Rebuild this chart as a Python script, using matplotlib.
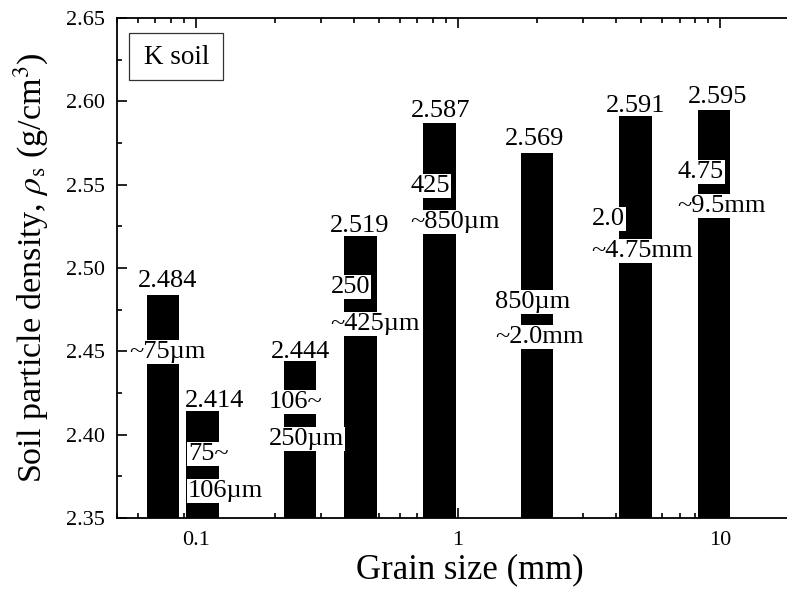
import numpy as np
import matplotlib
matplotlib.use("Agg")
import matplotlib.pyplot as plt
from matplotlib.patches import Rectangle
from matplotlib.ticker import MultipleLocator, LogLocator, NullFormatter

plt.rcParams['font.family'] = ['Liberation Serif', 'DejaVu Serif']
plt.rcParams['mathtext.fontset'] = 'stix'

# grain size (upper bound of each fraction, mm) and soil particle density
grain_size = [0.075, 0.106, 0.25, 0.425, 0.85, 2.0, 4.75, 9.5]
density = [2.484, 2.414, 2.444, 2.519, 2.587, 2.569, 2.591, 2.595]
value_labels = ['2.484', '2.414', '2.444', '2.519', '2.587', '2.569', '2.591', '2.595']
range_labels = [['~75µm'], ['75~', '106µm'], ['106~', '250µm'], ['250', '~425µm'],
                ['425', '~850µm'], ['850µm', '~2.0mm'], ['2.0', '~4.75mm'], ['4.75', '~9.5mm']]

# label placement (data coords: left x, baseline y of each line)
range_x = [0.0556, 0.0932, 0.1895, 0.326, 0.657, 1.382, 3.233, 6.864]
range_y = [[2.446], [2.3848, 2.3626], [2.416, 2.3938], [2.485, 2.4628],
           [2.5456, 2.524], [2.476, 2.455], [2.5258, 2.5066], [2.554, 2.5336]]
# value label offsets in pixels (dx, dy above bar top)
val_dx = [4.5, 12, 0, -1, 1.5, -2, 0, 3]
val_dy = [8, 4, 3, 4, 6, 8, 4, 6.7]

y_base = 2.35
half_w = 0.0618  # half bar width in decades

fig = plt.figure(figsize=(7.87, 5.89), dpi=100)
ax = fig.add_axes([0.1487, 0.1205, 0.8666, 0.849])

c = np.array(grain_size)
left = c * 10 ** (-half_w)
width = c * (10 ** half_w - 10 ** (-half_w))
ax.bar(left, np.array(density) - y_base, width=width, bottom=y_base,
       align='edge', color='black', edgecolor='none')

ax.set_xscale('log')
ax.set_xlim(0.05, 20)
ax.set_ylim(2.35, 2.65)

for i in range(len(grain_size)):
    ax.annotate(value_labels[i], (grain_size[i], density[i]),
                xytext=(val_dx[i] * 0.72, val_dy[i] * 0.72), textcoords='offset points',
                ha='center', va='baseline', fontsize=19)
    for s, yy in zip(range_labels[i], range_y[i]):
        ax.text(range_x[i], yy, s, ha='left', va='baseline', fontsize=19,
                bbox=dict(boxstyle='square,pad=0.05', fc='white', ec='none'))

# "K soil" box
ax.add_patch(Rectangle((0.0176, 0.876), 0.1378, 0.094, transform=ax.transAxes,
                       fc='white', ec='#333333', lw=0.9, zorder=4))
ax.text(0.088, 0.921, 'K soil', transform=ax.transAxes, ha='center', va='center',
        fontsize=19.5, zorder=5)

ax.set_xticks([0.1, 1, 10])
ax.set_xticklabels(['0.1', '1', '10'])
ax.xaxis.set_minor_locator(LogLocator(base=10, subs=np.arange(2, 10)))
ax.xaxis.set_minor_formatter(NullFormatter())
ax.set_yticks(np.arange(2.35, 2.651, 0.05))
ax.set_yticklabels(['%.2f' % v for v in np.arange(2.35, 2.651, 0.05)])
ax.yaxis.set_minor_locator(MultipleLocator(0.025))

ax.tick_params(which='both', direction='in', top=True, right=True, width=1.2, labelsize=16)
ax.tick_params(which='major', length=7)
ax.tick_params(which='minor', length=3.6)
ax.tick_params(axis='x', pad=9)
ax.tick_params(axis='y', pad=8.5)
for sp in ax.spines.values():
    sp.set_linewidth(1.3)

ax.set_xlabel('Grain size (mm)', fontsize=25)
ax.set_ylabel(r'Soil particle density, $\rho_\mathrm{s}$ (g/cm$^3$)', fontsize=24.5)
ax.xaxis.set_label_coords(0.518, -0.07)
ax.yaxis.set_label_coords(-0.098, 0.5)

fig.savefig('out.png', dpi=100)
